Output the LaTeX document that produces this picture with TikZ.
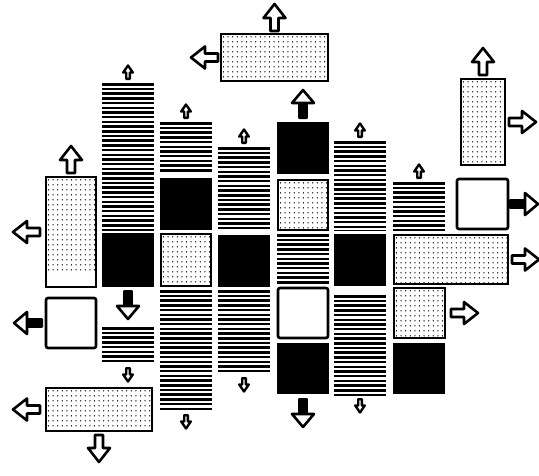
\documentclass[tikz,border=0pt]{standalone}
\usetikzlibrary{positioning}

\begin{document}
\begin{tikzpicture}[x=1pt,y=-1pt,
  every node/.style={inner sep=0pt, outer sep=0pt},
  ruled/.style={fill=white, minimum width=52pt, path picture={
    \foreach \k in {0,...,34}
      \fill[black] ([yshift=-\k*4.7pt]path picture bounding box.north west) rectangle ([yshift=-\k*4.7pt-2.5pt]path picture bounding box.north east);}},
  ink/.style={fill=black, minimum width=52pt, minimum height=52pt},
  speckle/.style={draw, line width=2.6pt, fill=white, path picture={
    \foreach \i in {0,...,24} \foreach \j in {0,...,18}
      \fill[black] ([xshift=\i*4.6pt+2.5pt, yshift=-\j*5pt-2.8pt]path picture bounding box.north west) circle (0.7pt);}},
  hollowbox/.style={draw, line width=2.6pt, fill=white, rounded corners=2pt, minimum width=50pt, minimum height=50pt},
  bigarrow/.pic={\draw[line width=2.6pt, fill=white, line join=round] (1,-4) -- (14,-4) -- (14,-11) -- (28,0) -- (14,11) -- (14,4) -- (1,4) -- cycle;},
  thickarrow/.pic={\fill[rounded corners=1pt] (0,-4.8) rectangle (17,4.8);
    \draw[line width=2.6pt, fill=white, line join=round] (16,-11) -- (29,0) -- (16,11) -- cycle;},
  tinyarrow/.pic={\draw[line width=2.4pt, fill=white, line join=round] (1.2,-1.8) -- (7.5,-1.8) -- (7.5,-4.8) -- (14.5,0) -- (7.5,4.8) -- (7.5,1.8) -- (1.2,1.8) -- cycle;},
]
\path[use as bounding box, fill=white] (0,0) rectangle (539,475);
% left column: tall speckled block, white block, wide block at the bottom
\node[speckle, minimum width=50pt, minimum height=110pt, anchor=north west] (lefttall) at (46,177) {};
\node[hollowbox, below=11pt of lefttall] (leftwhite) {};
\node[speckle, minimum width=106pt, minimum height=43pt, anchor=north west] (botwide) at (46,388) {};
% column 1
\node[ruled, minimum height=147pt, anchor=north west] (h1a) at (102,83) {};
\node[ink, minimum height=54pt, below=3pt of h1a] (k1) {};
\node[ruled, minimum height=37pt, below=40pt of k1] (h1b) {};
% column 2
\node[ruled, minimum height=51pt, anchor=north west] (h2a) at (160,122) {};
\node[ink, below=5pt of h2a] (k2) {};
\node[speckle, minimum width=50pt, minimum height=52pt, below=4pt of k2] (d2) {};
\node[ruled, minimum height=121pt, below=4pt of d2] (h2b) {};
% column 3
\node[ruled, minimum height=83pt, anchor=north west] (h3a) at (218,147) {};
\node[ink, below=5pt of h3a] (k3) {};
\node[ruled, minimum height=84pt, below=3pt of k3] (h3b) {};
% column 4
\node[ink, anchor=north west] (k4a) at (277,122) {};
\node[speckle, minimum width=50pt, minimum height=50pt, below=6pt of k4a] (d4) {};
\node[ruled, minimum height=49pt, below=4pt of d4] (h4) {};
\node[hollowbox, below=5pt of h4] (w4) {};
\node[ink, minimum height=51pt, below=5pt of w4] (k4b) {};
% column 5
\node[ruled, minimum height=89pt, anchor=north west] (h5a) at (334,141) {};
\node[ink, below=4pt of h5a] (k5) {};
\node[ruled, minimum height=100pt, below=9pt of k5] (h5b) {};
% column 6 and the wide block on the right
\node[ruled, minimum height=48pt, anchor=north west] (h6) at (393,182) {};
\node[speckle, minimum width=114pt, minimum height=49pt, anchor=north west] (rightwide) at (394,235) {};
\node[speckle, minimum width=51pt, minimum height=50pt, anchor=north west] (d6) at (394,288) {};
\node[ink, minimum height=51pt, anchor=north west] (k6) at (393,343) {};
% right column and top block
\node[speckle, minimum width=44pt, minimum height=86pt, anchor=north west] (righttall) at (461,79) {};
\node[hollowbox, minimum width=51pt, anchor=north west] (rightwhite) at (457,179) {};
\node[speckle, minimum width=107pt, minimum height=47pt, anchor=north west] (top) at (221,34) {};
% big hollow arrows
\pic[rotate=90] at ([yshift=2pt]top.north) {bigarrow};
\pic[rotate=180] at ([xshift=-2pt]top.west) {bigarrow};
\pic[rotate=90] at ([yshift=3pt]lefttall.north) {bigarrow};
\pic[rotate=180] at ([xshift=-5pt]lefttall.west) {bigarrow};
\pic[rotate=180] at ([xshift=-5pt]botwide.west) {bigarrow};
\pic[rotate=-90] at ([yshift=-3pt]botwide.south) {bigarrow};
\pic[rotate=90] at ([yshift=3pt]righttall.north) {bigarrow};
\pic at ([xshift=3pt]righttall.east) {bigarrow};
\pic at ([xshift=3pt]rightwide.east) {bigarrow};
\pic at ([xshift=5pt]d6.east) {bigarrow};
% arrows with a black shaft
\pic[rotate=90] at ([yshift=3pt]k4a.north) {thickarrow};
\pic[rotate=-90] at ([yshift=-3pt]k1.south) {thickarrow};
\pic[rotate=-90] at ([yshift=-4pt]k4b.south) {thickarrow};
\pic[rotate=180] at ([xshift=-3pt]leftwhite.west) {thickarrow};
\pic at ([xshift=1pt]rightwhite.east) {thickarrow};
% small arrows on the ruled columns
\foreach \c in {h1a,h2a,h3a,h5a,h6}
  \pic[rotate=90] at ([yshift=3pt]\c.north) {tinyarrow};
\foreach \c in {h1b,h2b,h3b,h5b}
  \pic[rotate=-90] at ([yshift=-3pt]\c.south) {tinyarrow};
\end{tikzpicture}
\end{document}
